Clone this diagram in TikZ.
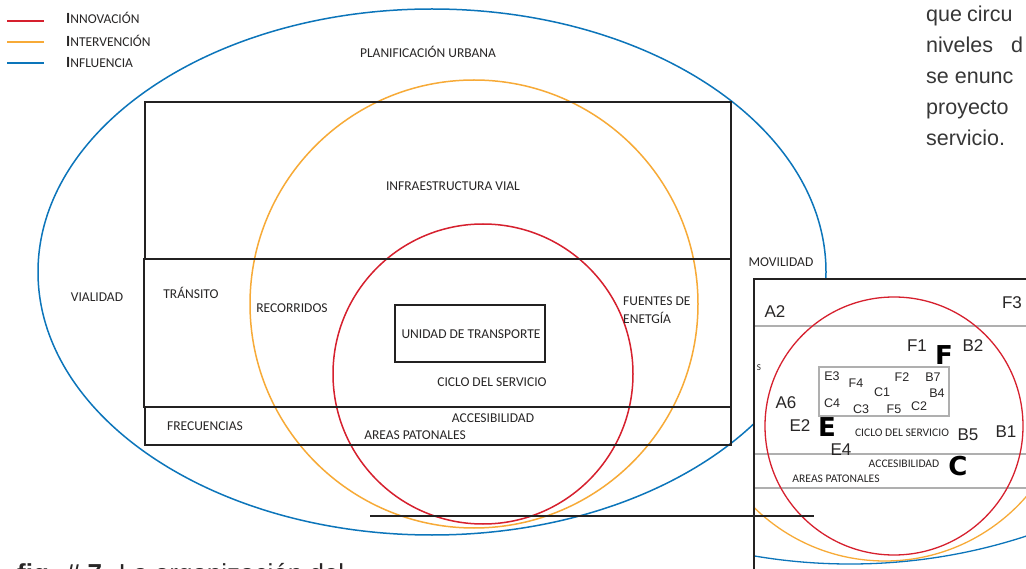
\documentclass[tikz,border=0pt]{standalone}
\usepackage{fontspec}
\setmainfont{Carlito}
\newfontfamily\arialf{Liberation Sans}
\newfontfamily\heavyf{DejaVu Sans}
\definecolor{cred}{RGB}{214,32,46}
\definecolor{corange}{RGB}{247,170,55}
\definecolor{cblue}{RGB}{12,117,186}
\definecolor{bline}{RGB}{35,33,33}
\definecolor{gline}{RGB}{175,175,175}
\definecolor{txt}{RGB}{40,38,38}
\definecolor{ptxt}{RGB}{55,55,55}
\tikzset{
  lbl/.style={font=\fontsize{13.5}{15}\selectfont, text=txt, inner sep=0pt},
  slbl/.style={font=\fontsize{11.6}{13}\selectfont, text=txt, inner sep=0pt},
  leg/.style={font=\fontsize{13.5}{15}\selectfont, text=txt, inner sep=0pt, anchor=west},
  ilbl/.style={font=\arialf\fontsize{12.5}{14}\selectfont, text=txt, inner sep=0pt},
  blbl/.style={font=\arialf\fontsize{17}{19}\selectfont, text=txt, inner sep=0pt},
  heavy/.style={font=\heavyf\bfseries\fontsize{26}{27}\selectfont, text=black, inner sep=0pt},
  para/.style={font=\arialf\fontsize{21.5}{24}\selectfont, text=ptxt, inner sep=0pt, anchor=base west},
  boxline/.style={draw=bline, line width=2pt},
  gridline/.style={draw=gline, line width=1.4pt},
  ring/.style={line width=1.5pt},
}
\begin{document}
\begin{tikzpicture}[x=1pt,y=-1pt]
\useasboundingbox (0,0) rectangle (1026,569);
\clip (0,0) rectangle (1026,569);
\fill[white] (0,0) rectangle (1026,569);

% legend
\draw[cred, line width=2pt] (7,21) -- (44,21);
\draw[corange, line width=2pt] (7,42) -- (44,42);
\draw[cblue, line width=2pt] (7,63) -- (44,63);
\node[leg] (lgA) at (66,18) {{\fontsize{15.5}{15}\selectfont\bfseries I}NNOVACIÓN};
\node[leg] (lgB) at (66,41) {{\fontsize{15.5}{15}\selectfont\bfseries I}NTERVENCIÓN};
\node[leg] (lgC) at (66,63) {{\fontsize{15.5}{15}\selectfont\bfseries I}NFLUENCIA};

% rings
\draw[cblue, ring] (432,272) ellipse [x radius=394pt, y radius=263pt];
\draw[corange, ring] (474,304) circle [radius=224pt];
\draw[cred, ring] (483,374) circle [radius=150pt];

% boxes
\draw[boxline] (145,102) rectangle (731,259);
\draw[boxline] (144,259) rectangle (731,407);
\draw[boxline] (145,407) rectangle (731,445);
\node[boxline, fill=none, minimum width=150pt, minimum height=57pt, inner sep=0pt] (unidad) at (470,333.5) {};
\node[lbl] (unidadT) at (471,334) {UNIDAD DE TRANSPORTE};

% main labels
\node[lbl] (plan) at (428,52) {PLANIFICACIÓN URBANA};
\node[lbl] (infra) at (453,186) {INFRAESTRUCTURA VIAL};
\node[lbl] (vial) at (97,297) {VIALIDAD};
\node[lbl] (trans) at (191,293) {TRÁNSITO};
\node[lbl] (reco) at (292,308) {RECORRIDOS};
\node[lbl, anchor=west] (fuen1) at (623,301) {FUENTES DE};
\node[lbl, anchor=west] (fuen2) at (623,318) {ENETGÍA};
\node[lbl] (ciclo) at (492,382) {CICLO DEL SERVICIO};
\node[lbl] (acce) at (493,418) {ACCESIBILIDAD};
\node[lbl] (areas) at (415,435) {AREAS PATONALES};
\node[lbl] (frec) at (205,426) {FRECUENCIAS};
\node[lbl] (movi) at (781,262) {MOVILIDAD};

% paragraph on the right
\node[para] (p1a) at (926,22) {que};
\node[para] (p1b) at (967,22) {circu};
\node[para] (p2a) at (926,53) {niveles};
\node[para] (p2b) at (1011,53) {d};
\node[para] (p3) at (926,84) {se enunc};
\node[para] (p4) at (926,115) {proyecto};
\node[para] (p5) at (926,146) {servicio.};

% caption (cut off at the bottom, as in the source)
\node[font=\arialf\fontsize{26}{28}\selectfont, text=txt, inner sep=0pt, anchor=base west] (cap) at (17,582) {\textbf{fig. \# 7.} La organización del};

% inset
\fill[white] (754,279) rectangle (1040,590);
\begin{scope}
\clip (754,279) rectangle (1040,590);
\draw[gridline] (754,326) -- (1040,326);
\draw[gridline] (754,454) -- (1040,454);
\draw[gridline] (754,488) -- (1040,488);
\draw[corange, line width=1.3pt] (885,374) circle [radius=187pt];
\draw[cblue, line width=1.3pt] (850,-3) circle [radius=567pt];
\draw[cred, line width=1.3pt] (894,426) circle [radius=129pt];
\end{scope}
\draw[boxline] (754,590) -- (754,279) -- (1040,279);
\draw[gridline] (819,367) rectangle (949,416);

\node[font=\fontsize{9}{10}\selectfont, text=txt, inner sep=0pt] (sS) at (759,368) {S};
\node[blbl] (A2) at (775,312) {A2};
\node[blbl] (F3) at (1012,303) {F3};
\node[blbl] (F1) at (917,346) {F1};
\node[heavy] (Fb) at (944,355) {F};
\node[blbl] (B2) at (973,346) {B2};
\node[ilbl] (E3) at (832,376) {E3};
\node[ilbl] (F4) at (856,383) {F4};
\node[ilbl] (F2) at (902,377) {F2};
\node[ilbl] (B7) at (933,377) {B7};
\node[ilbl] (C1) at (882,392) {C1};
\node[ilbl] (B4) at (937,393) {B4};
\node[ilbl] (C4) at (832,403) {C4};
\node[ilbl] (C3) at (861,409) {C3};
\node[ilbl] (F5) at (894,409) {F5};
\node[ilbl] (C2) at (919,406) {C2};
\node[blbl] (A6) at (786,403) {A6};
\node[blbl] (E2) at (800,426) {E2};
\node[heavy] (Eb) at (827,427) {E};
\node[slbl] (ciclo2) at (902,433) {CICLO DEL SERVICIO};
\node[blbl] (B5) at (968,435) {B5};
\node[blbl] (B1) at (1006,432) {B1};
\node[blbl] (E4) at (841,450) {E4};
\node[slbl] (acce2) at (904,464) {ACCESIBILIDAD};
\node[heavy] (Cb) at (958,466) {C};
\node[slbl] (areas2) at (836,479) {AREAS PATONALES};

% long horizontal line
\coordinate (hl1) at (370,516);
\coordinate (hl2) at (814,516);
\draw[boxline] (hl1) -- (hl2);
\end{tikzpicture}
\end{document}
